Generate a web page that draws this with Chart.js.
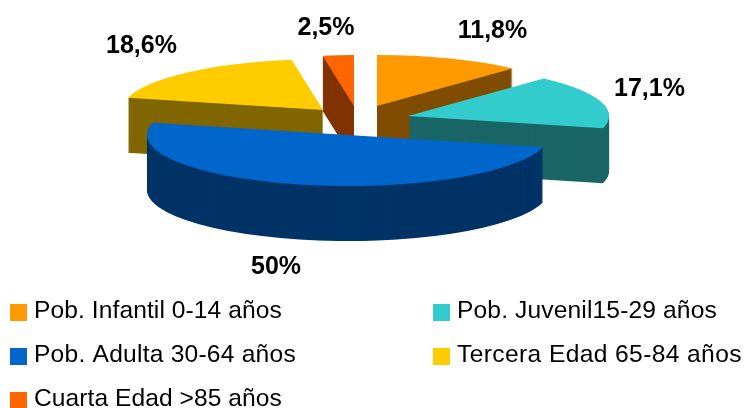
<!DOCTYPE html>
<html>
<head>
<meta charset="utf-8">
<style>
html,body{margin:0;padding:0;background:#fff;overflow:hidden}
canvas{display:block}
</style>
<script src="https://cdn.jsdelivr.net/npm/chart.js@4"></script>
</head>
<body>
<canvas id="c" width="744" height="408"></canvas>
<script>
const categories = ['Pob. Infantil 0-14 años','Pob. Juvenil15-29 años','Pob. Adulta 30-64 años','Tercera Edad 65-84 años','Cuarta Edad >85 años'];
const percentages = [11.8, 17.1, 50, 18.6, 2.5];
const topColors = ['#FF9900','#33CCCC','#0066CC','#FFCC00','#FF6600'];
const sideColors = ['#804D00','#1A6666','#003366','#806600','#803300'];

const pieCenter = [358, 119];
const sliceShift = [[19,-13],[50,-3],[-10,16],[-35,-9],[-4,-13]];
const paintOrder = [0,4,3,1,2];
const tilt = 51/201;
const depth = 55;
const labelAnchors = [[492.5,31],[649.5,89],[276,267],[141.5,46],[326,28]];
const legendCells = [[10,304],[433,304],[10,348],[433,348],[10,392]];
const legendTracking = ['0.08px','0.13px','0.22px','0.38px','0.05px'];

const pie3d = {
  id:'pie3d',
  beforeDatasetsDraw(chart){
    const ctx = chart.ctx;
    const arcs = chart.getDatasetMeta(0).data;
    const place = (arc,i,d)=>{
      ctx.translate(pieCenter[0]+sliceShift[i][0], pieCenter[1]+sliceShift[i][1]+d);
      ctx.scale(1,tilt);
      ctx.translate(-arc.x,-arc.y);
    };
    paintOrder.forEach(i=>{
      const arc = arcs[i];
      const own = arc.options;
      arc.options = Object.assign({},own,{backgroundColor:sideColors[i],borderColor:sideColors[i],borderWidth:0});
      for(let d=depth;d>=1;d--){
        ctx.save(); place(arc,i,d); arc.draw(ctx); ctx.restore();
      }
      arc.options = Object.assign({},own,{borderWidth:0});
      ctx.save(); place(arc,i,0); arc.draw(ctx); ctx.restore();
      arc.options = own;
    });
    return false;
  },
  afterDraw(chart){
    const ctx = chart.ctx;
    ctx.save();
    ctx.fillStyle = '#000';
    ctx.textAlign = 'center';
    ctx.textBaseline = 'middle';
    ctx.font = 'bold 25px "Liberation Sans", Arial, sans-serif';
    percentages.forEach((v,i)=>{
      ctx.fillText(String(v).replace('.',',')+'%', labelAnchors[i][0], labelAnchors[i][1]);
    });
    ctx.textAlign = 'left';
    ctx.textBaseline = 'alphabetic';
    ctx.font = '24.6px "Liberation Sans", Arial, sans-serif';
    categories.forEach((t,i)=>{
      const [x,y] = legendCells[i];
      ctx.fillStyle = topColors[i];
      ctx.fillRect(x,y,17,17);
      ctx.fillStyle = '#000';
      ctx.letterSpacing = legendTracking[i];
      ctx.fillText(t, x+24, y+14);
    });
    ctx.restore();
  }
};

new Chart(document.getElementById('c'),{
  type:'pie',
  data:{labels:categories,datasets:[{data:percentages,backgroundColor:topColors,borderWidth:0}]},
  options:{
    responsive:false,
    animation:false,
    radius:201,
    layout:{padding:0},
    plugins:{legend:{display:false},tooltip:{enabled:false}}
  },
  plugins:[pie3d]
});
</script>
</body>
</html>
